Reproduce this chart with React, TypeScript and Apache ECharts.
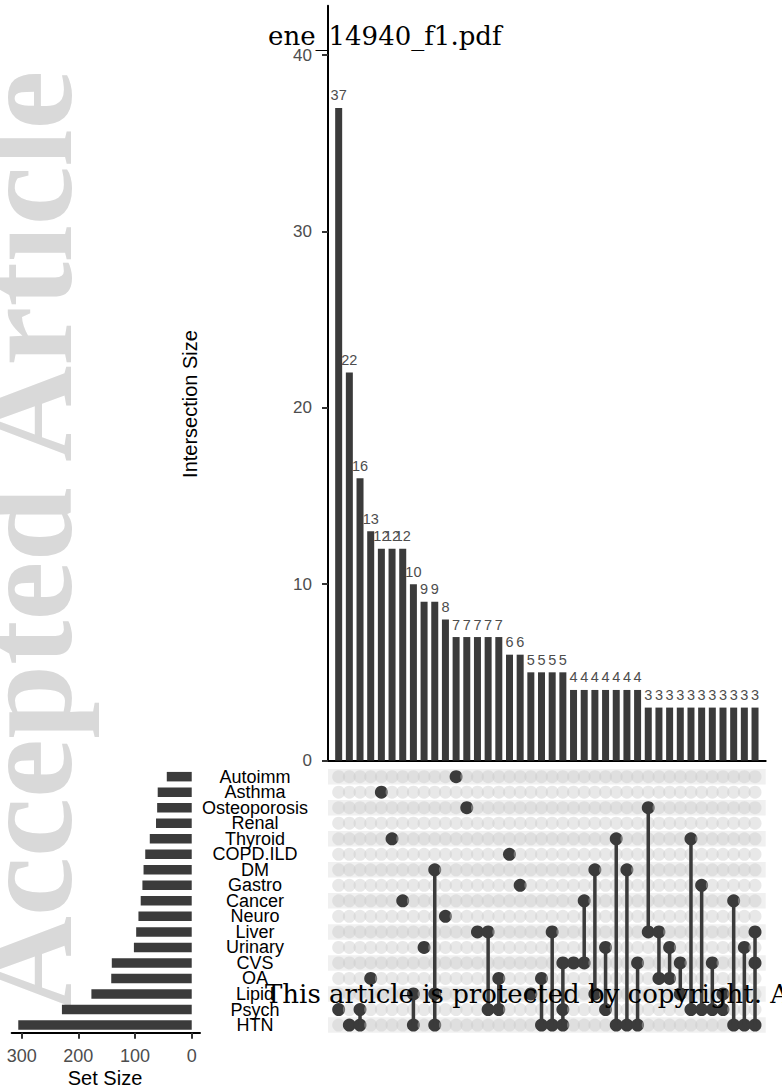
import React, { useEffect, useRef } from "react";
import * as echarts from "echarts";

const setNames = [
  "Autoimm", "Asthma", "Osteoporosis", "Renal", "Thyroid", "COPD.ILD", "DM", "Gastro",
  "Cancer", "Neuro", "Liver", "Urinary", "CVS", "OA", "Lipid", "Psych", "HTN",
];
const setSizes = [44, 60, 61, 63, 74, 82, 85, 87, 90, 94, 98, 102, 141, 142, 177, 229, 306];

const intersectionSizes = [
  37, 22, 16, 13, 12, 12, 12, 10, 9, 9, 8, 7, 7, 7, 7, 7, 6, 6, 5, 5,
  5, 5, 4, 4, 4, 4, 4, 4, 4, 3, 3, 3, 3, 3, 3, 3, 3, 3, 3, 3,
];
const intersectionMembers: string[][] = [
  ["Psych"], ["HTN"], ["Psych", "HTN"], ["OA"], ["Asthma"], ["Thyroid"], ["Cancer"],
  ["Lipid", "HTN"], ["Urinary"], ["DM", "Lipid", "HTN"], ["Neuro"], ["Autoimm"],
  ["Osteoporosis"], ["Liver"], ["Liver", "Psych"], ["OA", "Psych"], ["COPD.ILD"],
  ["Gastro"], ["Lipid"], ["OA", "HTN"], ["Liver", "HTN"], ["CVS", "Psych", "HTN"],
  ["CVS"], ["Cancer", "CVS"], ["DM", "Lipid"], ["Urinary", "Psych"], ["Thyroid", "HTN"],
  ["DM", "HTN"], ["CVS", "HTN"], ["Osteoporosis", "Liver"], ["Liver", "OA"],
  ["Urinary", "OA"], ["CVS", "Lipid"], ["Thyroid", "Psych"], ["Gastro", "Psych"],
  ["CVS", "Psych"], ["Lipid", "Psych"], ["Cancer", "HTN"], ["Urinary", "HTN"],
  ["Liver", "CVS", "HTN"],
];
const intersectionTicks = [0, 10, 20, 30, 40];
const setSizeTicks = [0, 100, 200, 300];

const SANS = "'Liberation Sans', Arial, sans-serif";
const SERIF = "'DejaVu Serif', serif";
const DARK = "#3b3b3b";

export default function App() {
  const ref = useRef<HTMLDivElement>(null);

  useEffect(() => {
    const chart = echarts.init(ref.current!, null, { renderer: "svg" });

    const dotData: any[] = [];
    intersectionMembers.forEach((members, c) => {
      setNames.forEach((s, r) => {
        const on = members.includes(s);
        dotData.push({
          value: [c + 1, r],
          itemStyle: { color: on ? DARK : "rgba(200,200,200,0.42)", opacity: 1 },
        });
      });
    });

    const lineSeries: any[] = [];
    intersectionMembers.forEach((members, c) => {
      if (members.length < 2) return;
      const idx = members.map((m) => setNames.indexOf(m));
      const lo = Math.min(...idx);
      const hi = Math.max(...idx);
      lineSeries.push({
        type: "line",
        xAxisIndex: 1,
        yAxisIndex: 1,
        data: [[c + 1, lo], [c + 1, hi]],
        symbol: "none",
        lineStyle: { color: DARK, width: 3.5, opacity: 1 },
        z: 4,
        silent: true,
      });
    });

    const option: any = {
      animation: false,
      backgroundColor: "#ffffff",
      grid: [
        { left: 328, right: 16.3, top: 5.65, bottom: 327.5 },
        { left: 328, right: 16.3, top: 768.9, bottom: 55.2 },
        { left: 11.7, right: 582, top: 768.9, bottom: 55.2 },
      ],
      xAxis: [
        {
          gridIndex: 0, type: "value", min: 0, max: 41,
          axisLine: { show: true, onZero: false, lineStyle: { color: "#000", width: 2 } },
          axisTick: { show: false }, axisLabel: { show: false }, splitLine: { show: false },
        },
        { gridIndex: 1, type: "value", min: 0, max: 41, show: false, splitLine: { show: false } },
        {
          gridIndex: 2, type: "value", inverse: true, min: -14.6, max: 317.6,
          axisLine: { show: true, onZero: false, lineStyle: { color: "#000", width: 2 } },
          axisTick: { show: true, customValues: setSizeTicks, length: 6, lineStyle: { color: "#333", width: 2 } },
          axisLabel: {
            customValues: setSizeTicks, fontSize: 18, color: "#4d4d4d", margin: 14, fontFamily: SANS,
            formatter: (v: number) => (setSizeTicks.includes(v) ? String(v) : ""),
          },
          splitLine: { show: false },
        },
      ],
      yAxis: [
        {
          gridIndex: 0, type: "value", min: 0, max: 42.8,
          axisLine: { show: true, lineStyle: { color: "#000", width: 2 } },
          axisTick: { show: true, customValues: intersectionTicks, length: 6, lineStyle: { color: "#333", width: 2 } },
          axisLabel: {
            customValues: intersectionTicks, fontSize: 17, color: "#4d4d4d", margin: 16, fontFamily: SANS,
            formatter: (v: number) => (intersectionTicks.includes(v) ? String(v) : ""),
          },
          splitLine: { show: false },
        },
        {
          gridIndex: 1, type: "category", data: setNames, inverse: true,
          axisLine: { show: false }, axisTick: { show: false }, splitLine: { show: false },
          axisLabel: {
            interval: 0, hideOverlap: false, fontSize: 18, color: "#000", align: "center",
            margin: 73, fontFamily: SANS,
          },
        },
        { gridIndex: 2, type: "category", data: setNames, inverse: true, show: false },
      ],
      series: [
        {
          type: "bar", xAxisIndex: 0, yAxisIndex: 0,
          data: intersectionSizes.map((v, i) => [i + 1, v]),
          barWidth: 7, itemStyle: { color: DARK },
          label: {
            show: true, position: "top", distance: 5, fontSize: 14.5, color: "#4d4d4d", fontFamily: SANS,
            formatter: (p: any) => String(p.value[1]),
          },
          silent: true,
        },
        {
          type: "bar", xAxisIndex: 2, yAxisIndex: 2, data: setSizes,
          barWidth: 9.5, itemStyle: { color: DARK }, silent: true,
        },
        {
          type: "bar", xAxisIndex: 1, yAxisIndex: 1,
          data: setNames.map((_, i) => (i % 2 === 0 ? 41 : "-")),
          barWidth: "100%", itemStyle: { color: "#f0f0f0" }, z: 1, silent: true,
        },
        {
          type: "scatter", xAxisIndex: 1, yAxisIndex: 1, data: dotData,
          symbolSize: 13, z: 3, silent: true, itemStyle: { opacity: 1 },
        },
        ...lineSeries,
      ],
      graphic: [
        {
          type: "text", x: 92, y: 1012, rotation: Math.PI / 2, z: 0, silent: true,
          style: {
            text: "Accepted Article", fontSize: 133, fontWeight: "bold",
            fontFamily: "'Liberation Serif', serif", fill: "#d9d9d9",
            align: "left", verticalAlign: "bottom",
          },
        },
        {
          type: "text", x: 190, y: 404, rotation: Math.PI / 2, z: 50, silent: true,
          style: {
            text: "Intersection Size", fontSize: 20, fontFamily: SANS, fill: "#000",
            align: "center", verticalAlign: "middle",
          },
        },
        {
          type: "text", x: 105, y: 1078, z: 50, silent: true,
          style: {
            text: "Set Size", fontSize: 20, fontFamily: SANS, fill: "#000",
            align: "center", verticalAlign: "middle",
          },
        },
        {
          type: "text", x: 268, y: 49, z: 100, silent: true,
          style: {
            text: "ene_14940_f1.pdf", fontSize: 26, fontFamily: SERIF, fill: "#000",
            align: "left", verticalAlign: "bottom",
          },
        },
        {
          type: "text", x: 265, y: 1007, z: 100, silent: true,
          style: {
            text: "This article is protected by copyright. All rights reserved.",
            fontSize: 26, fontFamily: SERIF, fill: "#000",
            align: "left", verticalAlign: "bottom",
          },
        },
      ],
    };

    chart.setOption(option);
    return () => chart.dispose();
  }, []);

  return (
    <div
      ref={ref}
      style={{ position: "fixed", left: 0, top: 0, width: 782, height: 1088, overflow: "hidden", background: "#fff" }}
    />
  );
}
